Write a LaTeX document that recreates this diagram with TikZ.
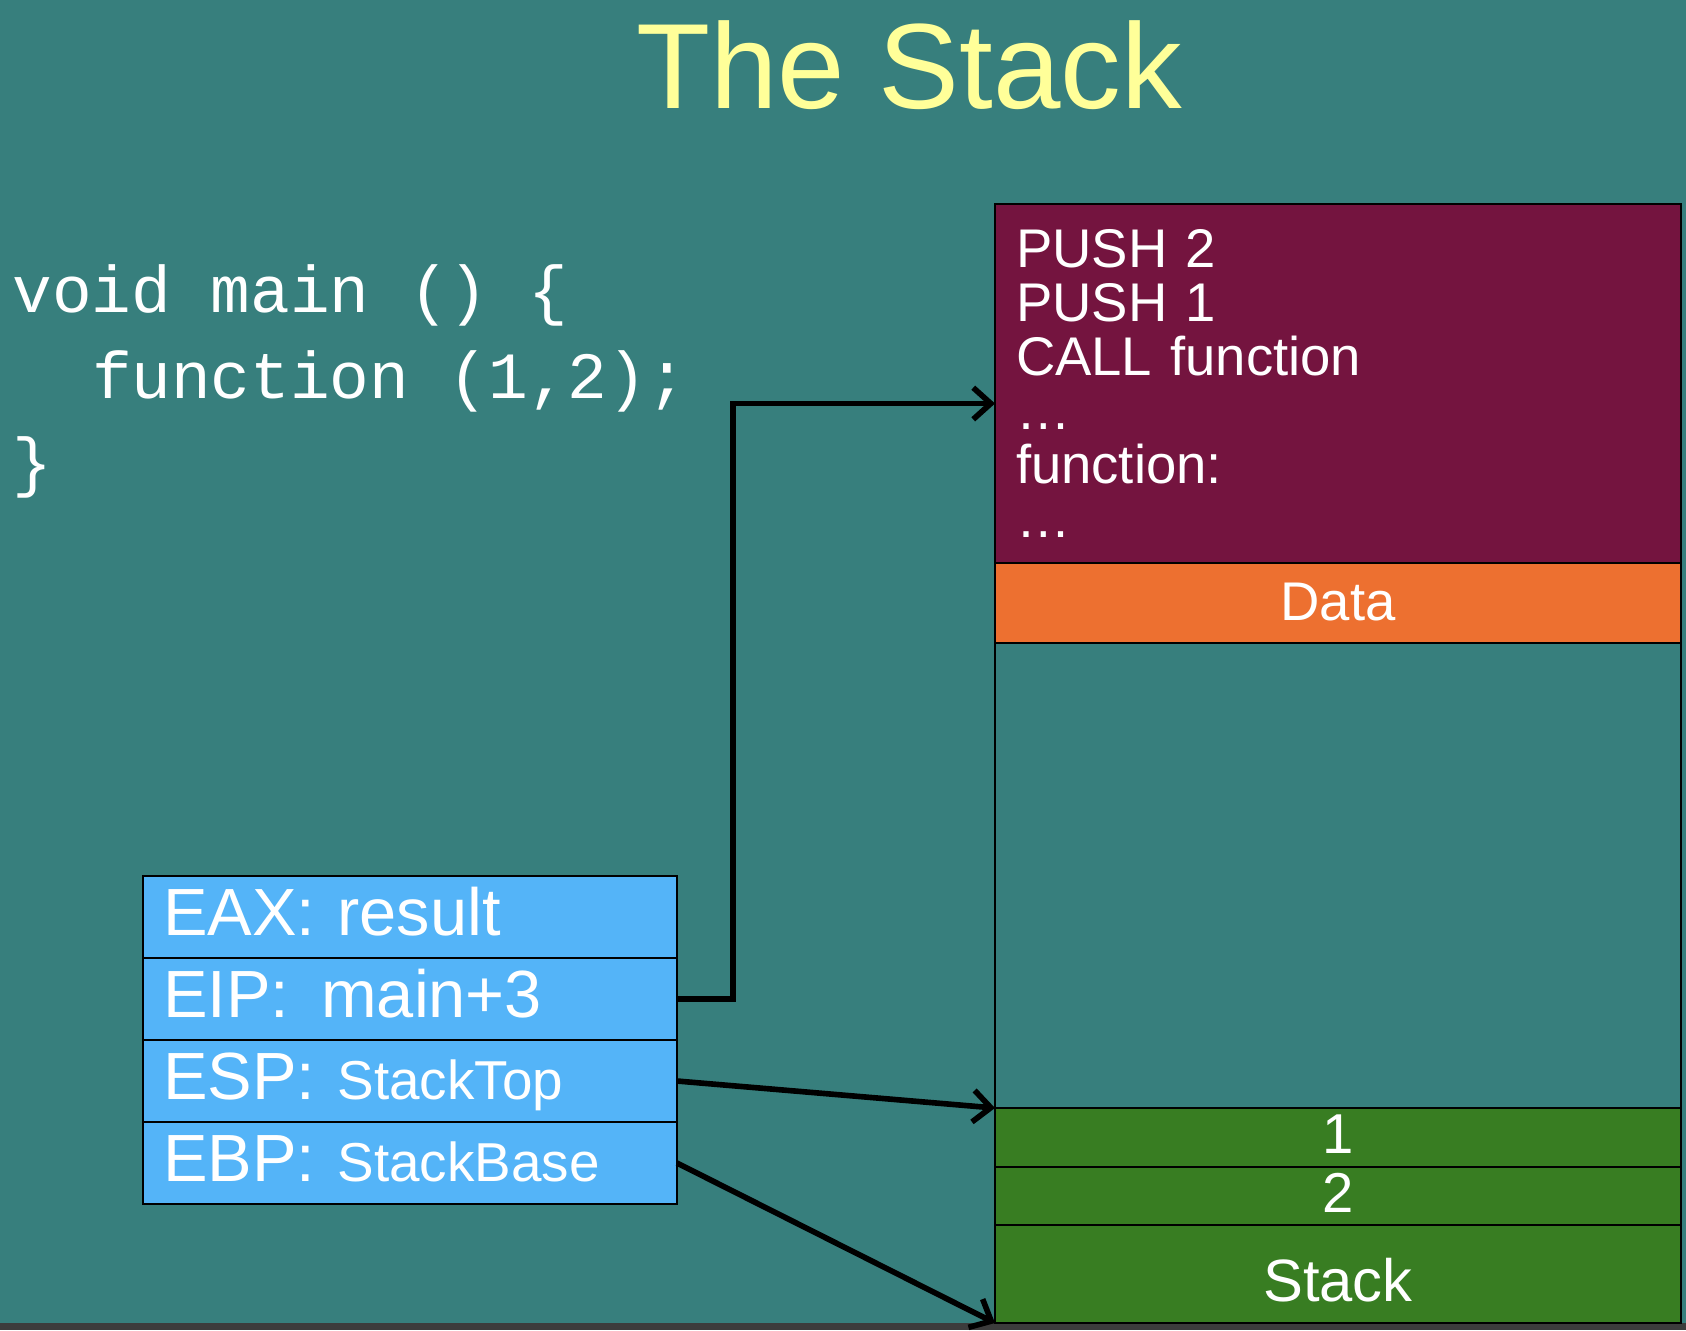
\documentclass[tikz,border=0pt]{standalone}
\usepackage{fontspec}
\setmainfont{Liberation Sans}
\setmonofont{Liberation Mono}
\usetikzlibrary{positioning,arrows.meta}

% Цвета слайда
\definecolor{slidebg}{RGB}{55,127,125}
\definecolor{titleyellow}{RGB}{255,255,153}
\definecolor{codepurple}{RGB}{116,20,63}
\definecolor{dataorange}{RGB}{237,112,48}
\definecolor{stackgreen}{RGB}{56,125,34}
\definecolor{regblue}{RGB}{84,180,248}
\definecolor{bottomgrey}{RGB}{60,60,60}

\begin{document}
\begin{tikzpicture}[
        x=1cm, y=-1cm,
        % Заголовок слайда
        title/.style={
            text=titleyellow,
            font=\fontsize{34.5}{40}\selectfont,
            inner sep=0pt
        },
        % Строки исходного кода
        src/.style={
            text=white,
            font=\ttfamily\fontsize{18.8}{22}\selectfont,
            inner sep=0pt,
            anchor=base west
        },
        % Ячейки регистров
        reg/.style={
            draw=black, line width=0.8pt,
            fill=regblue, text=white,
            minimum width=5.34cm, text width=4.94cm,
            inner xsep=0.2cm, inner ysep=0pt, outer sep=0pt,
            text height=0.59cm, text depth=0.23cm,
            align=left,
            font=\fontsize{19}{22}\selectfont
        },
        % Ячейки памяти
        mem/.style={
            draw=black, line width=0.8pt,
            minimum width=6.86cm, inner sep=0pt, outer sep=0pt,
            text=white,
            font=\fontsize{15.5}{18}\selectfont
        },
        % Стрелки-указатели
        ptr/.style={
            line width=1.6pt,
            -{Straight Barb[length=5pt,width=9pt]}
        }
    ]

        % Фон и рамка кадра
        \useasboundingbox (0,0) rectangle (16.86,13.30);
        \fill[slidebg] (0,0) rectangle (16.86,13.30);
        \fill[bottomgrey] (0,13.23) rectangle (16.86,13.30);

        \node[title, anchor=base] (title) at (9.09,1.08) {The Stack};

        % Исходный код
        \node[src] (src1) at (0.12,3.12) {void main () \{};
        \node[src] (src2) at (0.12,3.98) {\hphantom{vo}function (1,2);};
        \node[src] (src3) at (0.12,4.84) {\}};

        % Столбец памяти (сверху вниз)
        \node[mem, fill=codepurple, anchor=north west, minimum height=3.59cm,
              text width=6.44cm, inner xsep=0.21cm, align=left,
              font=\fontsize{15.5}{15.4}\selectfont] (code) at (9.95,2.04)
            {PUSH 2\\PUSH 1\\CALL function\\…\\function:\\…};
        \node[mem, fill=dataorange, below=0pt of code,
              text height=0.57cm, text depth=0.23cm] (data) {Data};
        \node[mem, below=0pt of data, minimum height=4.65cm] (free) {};
        \node[mem, fill=stackgreen, below=0pt of free, font=\fontsize{16}{18}\selectfont,
              text height=0.45cm, text depth=0.14cm] (one) {1};
        \node[mem, fill=stackgreen, below=0pt of one, font=\fontsize{16}{18}\selectfont,
              text height=0.45cm, text depth=0.13cm] (two) {2};
        \node[mem, fill=stackgreen, below=0pt of two, font=\fontsize{17}{20}\selectfont,
              text height=0.76cm, text depth=0.22cm] (stk) {Stack};

        % Регистры
        \node[reg, anchor=north west] (eax) at (1.43,8.76) {EAX: result};
        \node[reg, below=0pt of eax] (eip) {EIP:\ \hspace{2.8pt}main+3};
        \node[reg, below=0pt of eip] (esp) {ESP: {\fontsize{15.6}{18}\selectfont StackTop}};
        \node[reg, below=0pt of esp] (ebp) {EBP: {\fontsize{15.6}{18}\selectfont StackBase}};

        % Указатели
        \draw[ptr] (eip.east) -- ++(0.56,0) |- ([yshift=-0.2cm]code.west); % EIP
        \draw[ptr] (esp.east) -- (one.north west); % ESP
        \draw[ptr] (ebp.east) -- (stk.south west); % EBP

    \end{tikzpicture}
\end{document}
